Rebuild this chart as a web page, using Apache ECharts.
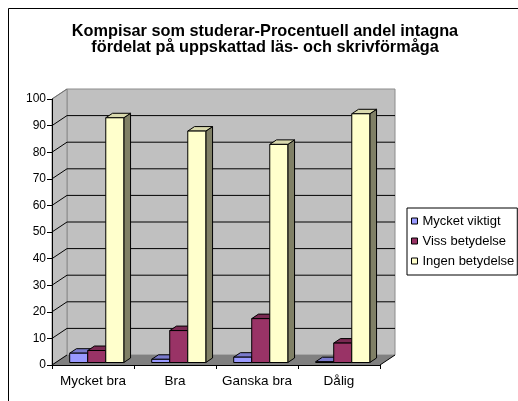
<!DOCTYPE html>
<html>
<head>
<meta charset="utf-8">
<script src="https://cdn.jsdelivr.net/npm/echarts@6/dist/echarts.min.js"></script>
<style>
  html, body { margin: 0; padding: 0; background: #ffffff; }
  #chart { width: 518px; height: 401px; }
</style>
</head>
<body>
<div id="chart"></div>
<script>
// Categories and series (percent of admitted students)
const categories = ['Mycket bra', 'Bra', 'Ganska bra', 'Dålig'];
const seriesNames = ['Mycket viktigt', 'Viss betydelse', 'Ingen betydelse'];
const mycketViktigt = [3.5, 1.2, 2.0, 0.3];
const vissBetydelse = [4.5, 12, 16.5, 7.3];
const ingenBetydelse = [92, 87, 82, 93.5];
const yTicks = [0, 10, 20, 30, 40, 50, 60, 70, 80, 90, 100];

const seriesValues = [mycketViktigt, vissBetydelse, ingenBetydelse];

// Face colours for the pseudo-3D columns: front, top, side
const frontColors = ['#9999ff', '#993366', '#ffffcc'];
const topColors = ['#7a7acc', '#7a2952', '#d9d9ad'];
const sideColors = ['#4d4d80', '#4d1a33', '#808066'];

// Depth of the box (back wall offset) and of the columns inside it
const WALL_DX = 15, WALL_DY = -10;
const BAR_FRONT = 0.25, BAR_BACK = 0.7;
const BAR_FRAC = 0.22;
const FONT = '"Liberation Sans", Arial, sans-serif';

const yMin = yTicks[0], yMax = yTicks[yTicks.length - 1];

function renderWalls(params, api) {
  const cs = params.coordSys;
  const x0 = cs.x, x1 = cs.x + cs.width;
  const yFloor = api.coord([0, yMin])[1];
  const yTop = api.coord([0, yMax])[1];
  const children = [];
  // back wall
  children.push({
    type: 'rect',
    shape: { x: x0 + WALL_DX, y: yTop + WALL_DY, width: cs.width, height: yFloor - yTop },
    style: { fill: '#c0c0c0', stroke: '#8c8c8c', lineWidth: 1 }
  });
  // left side wall
  children.push({
    type: 'polygon',
    shape: { points: [[x0, yFloor], [x0, yTop], [x0 + WALL_DX, yTop + WALL_DY], [x0 + WALL_DX, yFloor + WALL_DY]] },
    style: { fill: '#c0c0c0', stroke: '#8c8c8c', lineWidth: 1 }
  });
  // floor
  children.push({
    type: 'polygon',
    shape: { points: [[x0, yFloor], [x1, yFloor], [x1 + WALL_DX, yFloor + WALL_DY], [x0 + WALL_DX, yFloor + WALL_DY]] },
    style: { fill: '#808080' }
  });
  children.push({
    type: 'line',
    shape: { x1: x1, y1: yFloor, x2: x1 + WALL_DX, y2: yFloor + WALL_DY },
    style: { stroke: '#000', lineWidth: 1 }
  });
  // gridlines on the back wall plus their diagonals across the side wall
  yTicks.forEach(function (v) {
    const y = api.coord([0, v])[1];
    const edge = (v === yMax);
    children.push({
      type: 'line',
      shape: { x1: x0, y1: y, x2: x0 + WALL_DX, y2: y + WALL_DY },
      style: { stroke: edge ? '#707070' : '#000', lineWidth: 1 }
    });
    if (v !== yMin && v !== yMax) {
      children.push({
        type: 'line',
        shape: { x1: x0 + WALL_DX, y1: y + WALL_DY, x2: x1 + WALL_DX, y2: y + WALL_DY },
        style: { stroke: '#000', lineWidth: 1 }
      });
    }
  });
  return { type: 'group', children: children };
}

function makeBarRenderer(s) {
  return function (params, api) {
    const idx = api.value(0);
    const v = api.value(1);
    const band = api.size([1, 0])[0];
    const w = band * BAR_FRAC;
    const c = api.coord([idx, v]);
    const base = api.coord([idx, yMin])[1];
    const top = c[1];
    const xl = c[0] + (s - 1.5) * w;
    const xr = xl + w;
    const fdx = WALL_DX * BAR_FRONT, fdy = WALL_DY * BAR_FRONT;
    const bdx = WALL_DX * BAR_BACK, bdy = WALL_DY * BAR_BACK;
    const edge = { stroke: '#000', lineWidth: 1, lineJoin: 'round' };
    return {
      type: 'group',
      children: [
        {
          type: 'polygon',
          shape: { points: [[xr + fdx, top + fdy], [xr + bdx, top + bdy], [xr + bdx, base + bdy], [xr + fdx, base + fdy]] },
          style: Object.assign({ fill: sideColors[s] }, edge)
        },
        {
          type: 'polygon',
          shape: { points: [[xl + fdx, top + fdy], [xr + fdx, top + fdy], [xr + bdx, top + bdy], [xl + bdx, top + bdy]] },
          style: Object.assign({ fill: topColors[s] }, edge)
        },
        {
          type: 'rect',
          shape: { x: xl + fdx, y: top + fdy, width: w, height: base - top },
          style: Object.assign({ fill: frontColors[s] }, edge)
        }
      ]
    };
  };
}

const chart = echarts.init(document.getElementById('chart'), null, { renderer: 'canvas' });

const series = [{
  type: 'custom',
  name: '__walls',
  renderItem: renderWalls,
  data: [[0, 0]],
  clip: false,
  silent: true,
  z: 1
}];
seriesNames.forEach(function (name, s) {
  series.push({
    type: 'custom',
    name: name,
    renderItem: makeBarRenderer(s),
    itemStyle: { color: frontColors[s] },
    data: categories.map(function (c, i) { return [i, seriesValues[s][i]]; }),
    clip: false,
    z: 2
  });
});

chart.setOption({
  animation: false,
  backgroundColor: '#ffffff',
  title: {
    text: 'Kompisar som studerar-Procentuell andel intagna\nfördelat på uppskattad läs- och skrivförmåga',
    left: 265,
    top: 24,
    textAlign: 'center',
    padding: 0,
    textStyle: { fontFamily: FONT, fontSize: 16.3, fontWeight: 'bold', color: '#000', lineHeight: 16 }
  },
  legend: {
    data: seriesNames,
    orient: 'vertical',
    left: 407,
    top: 208,
    icon: 'rect',
    itemWidth: 6,
    itemHeight: 6,
    itemGap: 6,
    padding: [6, 3, 7, 4],
    backgroundColor: '#ffffff',
    borderColor: '#000',
    borderWidth: 1,
    borderRadius: 0,
    selectedMode: false,
    itemStyle: { borderColor: '#000', borderWidth: 1 },
    textStyle: { fontFamily: FONT, fontSize: 13, color: '#000', lineHeight: 14 }
  },
  grid: { left: 52, right: 138, top: 99, bottom: 36, containLabel: false },
  xAxis: {
    type: 'category',
    data: categories,
    z: 10,
    axisLine: { show: true, lineStyle: { color: '#000', width: 1 } },
    axisTick: { show: true, length: 4, lineStyle: { color: '#000' } },
    axisLabel: { interval: 0, fontFamily: FONT, fontSize: 13.5, color: '#000', margin: 9 },
    splitLine: { show: false }
  },
  yAxis: {
    type: 'value',
    min: yMin,
    max: yMax,
    interval: 10,
    z: 10,
    axisLine: { show: true, lineStyle: { color: '#000', width: 1 } },
    axisTick: { show: true, length: 5, lineStyle: { color: '#000' } },
    axisLabel: { fontFamily: FONT, fontSize: 12, color: '#000', margin: 6 },
    splitLine: { show: false }
  },
  graphic: [{
    type: 'rect',
    silent: true,
    shape: { x: 8.5, y: 8.5, width: 700, height: 700 },
    style: { fill: 'none', stroke: '#000', lineWidth: 1 },
    z: 100
  }],
  series: series
});
</script>
</body>
</html>
